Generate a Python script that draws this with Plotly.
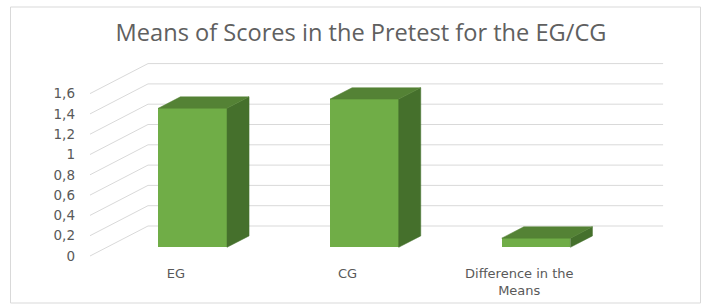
import plotly.graph_objects as go

# ---- data ----
categories = ["EG", "CG", "Difference in the<br>Means"]
means = [1.37, 1.46, 0.09]
tick_values = [0, 0.2, 0.4, 0.6, 0.8, 1.0, 1.2, 1.4, 1.6]
title_text = "Means of Scores in the Pretest for the EG/CG"

# ---- oblique 3D projection (in axis units) ----
PX_X = 171.7   # pixels per category unit
PX_Y = 101.5   # pixels per value unit
DEPTH_X = 58 / PX_X
DEPTH_Y = 30 / PX_Y
BAR_FRONT = 0.29
BAR_BACK = 0.67
BAR_W = 0.40

FRONT_C = "#70AD47"
TOP_C = "#548235"
SIDE_C = "#45702C"
GRID_C = "#D9D9D9"
TEXT_C = "#595959"

fig = go.Figure()

n_cat = len(categories)
shapes = []
# gridlines: diagonal + horizontal on back wall (below the bars)
for v in tick_values:
    shapes.append(dict(type="line", xref="x", yref="y", x0=0, y0=v,
                       x1=DEPTH_X, y1=v + DEPTH_Y,
                       line=dict(color=GRID_C, width=1), layer="below"))
    shapes.append(dict(type="line", xref="x", yref="y", x0=DEPTH_X, y0=v + DEPTH_Y,
                       x1=n_cat + DEPTH_X, y1=v + DEPTH_Y,
                       line=dict(color=GRID_C, width=1), layer="below"))

fx = BAR_FRONT * DEPTH_X
fy = BAR_FRONT * DEPTH_Y
bx = BAR_BACK * DEPTH_X
by = BAR_BACK * DEPTH_Y

# front faces
fig.add_trace(go.Bar(
    x=[i + 0.5 + fx for i in range(n_cat)],
    y=means,
    base=[fy] * n_cat,
    width=BAR_W,
    marker=dict(color=FRONT_C, line=dict(width=0)),
    hoverinfo="skip", showlegend=False))

for i, v in enumerate(means):
    c = i + 0.5
    x0 = c - BAR_W / 2 + fx
    x1 = c + BAR_W / 2 + fx
    # side face
    fig.add_trace(go.Scatter(
        x=[x1, x1 - fx + bx, x1 - fx + bx, x1, x1],
        y=[fy, by, v + by, v + fy, fy],
        mode="lines", fill="toself", fillcolor=SIDE_C,
        line=dict(color=SIDE_C, width=0.5),
        hoverinfo="skip", showlegend=False))
    # top face
    fig.add_trace(go.Scatter(
        x=[x0, x1, x1 - fx + bx, x0 - fx + bx, x0],
        y=[v + fy, v + fy, v + by, v + by, v + fy],
        mode="lines", fill="toself", fillcolor=TOP_C,
        line=dict(color=TOP_C, width=0.5),
        hoverinfo="skip", showlegend=False))

L, R, T, B = 90, 21, 56, 42
W, H = 701, 304
pw = W - L - R
ph = H - T - B

def px_x(p):
    return (p - L) / pw

def px_y(p):
    return (H - B - p) / ph

shapes.append(dict(type="rect", xref="paper", yref="paper",
                   x0=px_x(10.5), x1=px_x(700.5), y0=px_y(303), y1=px_y(7),
                   line=dict(color="#D9D9D9", width=1), layer="below"))

fig.update_layout(
    width=W, height=H,
    margin=dict(l=L, r=R, t=T, b=B, autoexpand=False),
    paper_bgcolor="white", plot_bgcolor="white",
    separators=",.",
    font=dict(family="DejaVu Sans", color=TEXT_C, size=12),
    title=dict(text=title_text, x=361 / W, xanchor="center",
               y=1 - 33 / H, yanchor="middle", xref="container", yref="container",
               font=dict(family="Open Sans", size=23.6, color="#606060")),
    xaxis=dict(range=[0, pw / PX_X], showgrid=False, zeroline=False,
               showline=False, tickvals=[i + 0.5 for i in range(n_cat)],
               ticktext=categories, ticks="", ticklabelstandoff=2,
               automargin=False,
               tickfont=dict(family="DejaVu Sans", size=13), fixedrange=True),
    yaxis=dict(range=[-(H - B - 256) / PX_Y, (256 - T) / PX_Y],
               showgrid=False, zeroline=False, showline=False,
               tickvals=tick_values, ticks="", ticklabelstandoff=14,
               automargin=False,
               tickfont=dict(family="DejaVu Sans", size=13.5), fixedrange=True),
    bargap=0,
    shapes=shapes,
)

fig.write_html("out.html", config={"displayModeBar": False},
               post_script="document.body.style.margin='0';document.body.style.overflow='hidden';")
